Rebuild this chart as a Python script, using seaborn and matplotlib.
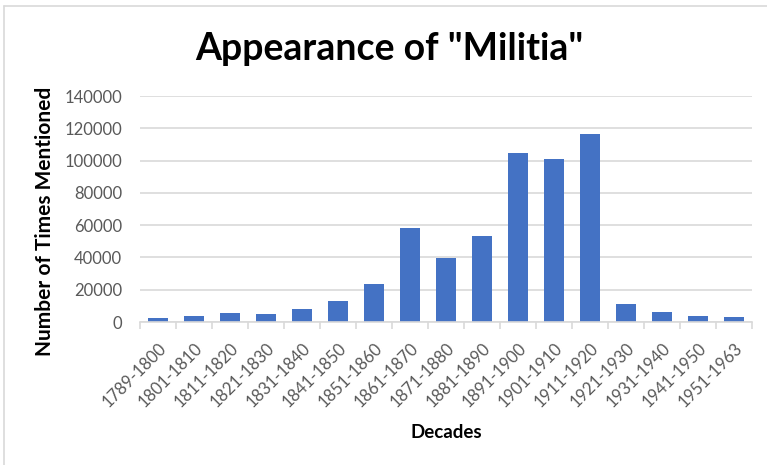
import matplotlib
matplotlib.use("Agg")
import matplotlib.pyplot as plt
from matplotlib.lines import Line2D
import seaborn as sns
import pandas as pd

decades = ["1789-1800", "1801-1810", "1811-1820", "1821-1830", "1831-1840",
           "1841-1850", "1851-1860", "1861-1870", "1871-1880", "1881-1890",
           "1891-1900", "1901-1910", "1911-1920", "1921-1930", "1931-1940",
           "1941-1950", "1951-1963"]
mentions = [2700, 3900, 5400, 4700, 8000, 13200, 23300, 58500, 39600,
            53000, 104500, 101000, 116400, 11100, 6000, 3700, 2900]
y_ticks = [0, 20000, 40000, 60000, 80000, 100000, 120000, 140000]

title = 'Appearance of "Militia"'
x_title = "Decades"
y_title = "Number of Times Mentioned"

sns.set_theme(style="white")
plt.rcParams["font.family"] = ["Lato", "DejaVu Sans"]

df = pd.DataFrame({"Decade": decades, "Mentions": mentions})

W, H = 767, 465
fig = plt.figure(figsize=(W / 100, H / 100), dpi=100)
fig.patch.set_facecolor("white")
ax = fig.add_axes([140 / W, 1 - 322 / H, (752 - 140) / W, (322 - 96) / H])

sns.barplot(data=df, x="Decade", y="Mentions", color="#4472C4", width=0.53,
            saturation=1, ax=ax, edgecolor="none")

ax.set_ylim(0, 140000)
ax.set_xlim(-0.5, len(decades) - 0.5)
ax.set_yticks(y_ticks)
ax.set_yticklabels([str(v) for v in y_ticks], color="#595959", fontsize=12)
ax.yaxis.grid(True, color="#D9D9D9", linewidth=1.2)
ax.set_axisbelow(True)
for s in ["top", "right", "left"]:
    ax.spines[s].set_visible(False)
ax.spines["bottom"].set_color("#D9D9D9")
ax.spines["bottom"].set_linewidth(1.2)
ax.tick_params(axis="y", length=0, pad=13)

ax.set_xticks(range(len(decades)))
ax.set_xticklabels(decades, rotation=45, ha="right", rotation_mode="anchor",
                   color="#595959", fontsize=12)
ax.tick_params(axis="x", which="major", length=0, pad=13)
ax.set_xticks([i - 0.5 for i in range(len(decades) + 1)], minor=True)
ax.tick_params(axis="x", which="minor", length=5, color="#D9D9D9", width=1.2,
               direction="out", bottom=True)
ax.set_xlabel("")
ax.set_ylabel("")

fig.text(389 / W, 1 - 60 / H, title, ha="center", va="baseline",
         fontsize=27, fontweight="bold", color="black")
fig.text(446 / W, 1 - 432 / H, x_title, ha="center", va="center",
         fontsize=13.5, fontweight="bold", color="black")
fig.text(45 / W, 1 - 221 / H, y_title, ha="center", va="center", rotation=90,
         fontsize=15, fontweight="bold", color="black")

# chart area border
fig.add_artist(Line2D([4 / W, 4 / W], [0, 1 - 6 / H], color="#D9D9D9", lw=1.2))
fig.add_artist(Line2D([4 / W, 1], [1 - 6 / H, 1 - 6 / H], color="#D9D9D9", lw=1.2))

fig.savefig("out.png", dpi=100, facecolor="white")
